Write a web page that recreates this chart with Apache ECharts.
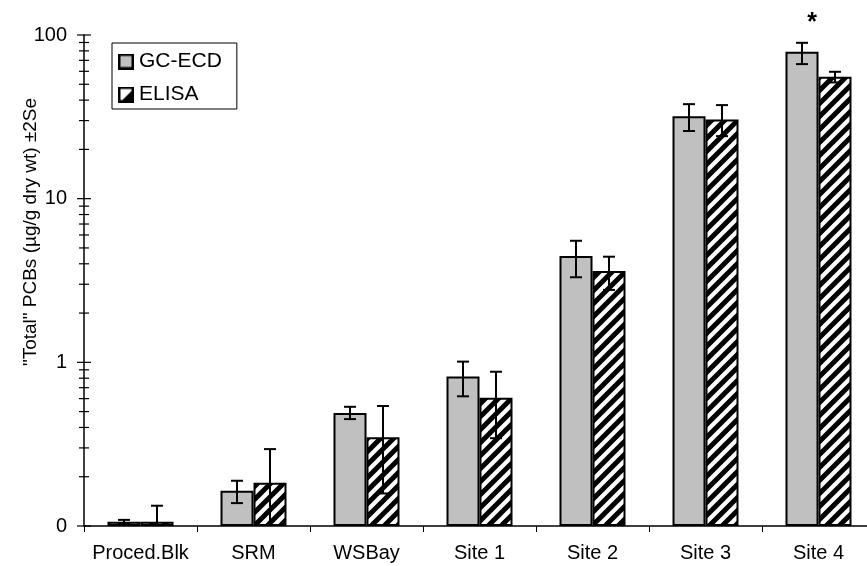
<!DOCTYPE html>
<html>
<head>
<meta charset="utf-8">
<script src="https://cdn.jsdelivr.net/npm/echarts@6/dist/echarts.min.js"></script>
<style>
html,body{margin:0;padding:0;background:#fff;}
#chart{width:867px;height:566px;}
</style>
</head>
<body>
<div id="chart"></div>
<script>
// ---- Data ----
const categories = ['Proced.Blk', 'SRM', 'WSBay', 'Site 1', 'Site 2', 'Site 3', 'Site 4'];
const gcMean  = [0.106, 0.164, 0.49, 0.82, 4.46, 31.9, 78.9];
const gcLow   = [0.103, 0.138, 0.45, 0.62, 3.31, 25.9, 66.4];
const gcHigh  = [0.109, 0.189, 0.535, 1.01, 5.53, 37.8, 89.6];
const elisaMean = [0.106, 0.184, 0.348, 0.608, 3.61, 30.5, 55.6];
const elisaLow  = [0.08, 0.08, 0.158, 0.344, 2.77, 24.1, 51.3];
const elisaHigh = [0.133, 0.295, 0.541, 0.876, 4.42, 37.3, 59.6];
const majorTicks = [0.1, 1, 10, 100];
const minorTicks = [0.2,0.3,0.4,0.5,0.6,0.7,0.8,0.9, 2,3,4,5,6,7,8,9, 20,30,40,50,60,70,80,90];
const tickLabels = {0.1: '0', 1: '1', 10: '10', 100: '100'};
const yTitle = '"Total" PCBs (µg/g dry wt) ±2Se';
const significance = {category: 'Site 4', text: '*'};

// ---- Styling ----
const FONT = '"Liberation Sans", Arial, Helvetica, sans-serif';
const BAR_W = 33;

function makeHatch() {
  const N = 13;
  const c = document.createElement('canvas');
  c.width = N; c.height = N;
  const ctx = c.getContext('2d');
  ctx.fillStyle = '#fff';
  ctx.fillRect(0, 0, N, N);
  ctx.strokeStyle = '#000';
  ctx.lineWidth = 5;
  ctx.beginPath();
  for (let k = -1; k <= 1; k++) {
    ctx.moveTo(k * N - 3, N + 3);
    ctx.lineTo(k * N + N + 3, -3);
  }
  ctx.stroke();
  return c;
}
const hatch = makeHatch();

function makeLegendIcon(kind) {
  const S = 32;
  const c = document.createElement('canvas');
  c.width = S; c.height = S;
  const ctx = c.getContext('2d');
  ctx.fillStyle = kind === 'gc' ? '#c0c0c0' : '#fff';
  ctx.fillRect(0, 0, S, S);
  if (kind !== 'gc') {
    ctx.fillStyle = '#000';
    ctx.beginPath();
    ctx.moveTo(S, 4); ctx.lineTo(S, S); ctx.lineTo(4, S);
    ctx.closePath(); ctx.fill();
  }
  ctx.strokeStyle = '#000';
  ctx.lineWidth = 5;
  ctx.strokeRect(2.5, 2.5, S - 5, S - 5);
  return 'image://' + c.toDataURL();
}

const chart = echarts.init(document.getElementById('chart'), null, {renderer: 'canvas'});

function errorBarItem(offsetSign) {
  return function (params, api) {
    const ci = api.value(0);
    const lo = api.coord([ci, api.value(1)]);
    const hi = api.coord([ci, api.value(2)]);
    const x = lo[0] + offsetSign * BAR_W / 2;
    const cap = 6;
    const style = {stroke: '#000', lineWidth: 2, fill: null};
    return {
      type: 'group',
      children: [
        {type: 'line', shape: {x1: x, y1: lo[1], x2: x, y2: hi[1]}, style: style},
        {type: 'line', shape: {x1: x - cap, y1: lo[1], x2: x + cap, y2: lo[1]}, style: style},
        {type: 'line', shape: {x1: x - cap, y1: hi[1], x2: x + cap, y2: hi[1]}, style: style}
      ]
    };
  };
}

function tickItem(params, api) {
  const v = api.value(1);
  const y = api.coord([0, v])[1];
  const x = params.coordSys.x;
  const half = api.value(2) ? 7 : 5;
  return {
    type: 'line',
    shape: {x1: x - half, y1: y, x2: x + half, y2: y},
    style: {stroke: '#000', lineWidth: 1.2}
  };
}

const tickData = majorTicks.map(v => [0, v, 1]).concat(minorTicks.map(v => [0, v, 0]));

const option = {
  animation: false,
  backgroundColor: '#fff',
  textStyle: {fontFamily: FONT, color: '#000'},
  grid: {left: 84, top: 35, bottom: 40, right: -8, containLabel: false, outerBoundsMode: 'none'},
  legend: {
    data: [
      {name: 'GC-ECD', icon: makeLegendIcon('gc')},
      {name: 'ELISA', icon: makeLegendIcon('elisa')}
    ],
    orient: 'vertical',
    left: 112, top: 43,
    padding: [8, 15, 4, 6],
    itemGap: 12,
    itemWidth: 16, itemHeight: 16,
    borderColor: '#000', borderWidth: 1,
    textStyle: {fontFamily: FONT, fontSize: 21, color: '#000'}
  },
  xAxis: {
    type: 'category',
    data: categories,
    boundaryGap: true,
    axisLine: {lineStyle: {color: '#000', width: 1.5}},
    axisTick: {show: true, length: 6, lineStyle: {color: '#000', width: 1}},
    axisLabel: {interval: 0, fontFamily: FONT, fontSize: 20, color: '#000', margin: 17}
  },
  yAxis: {
    type: 'log',
    logBase: 10,
    min: 0.1, max: 100,
    startValue: 0.1,
    splitLine: {show: false},
    axisLine: {show: true, lineStyle: {color: '#000', width: 1.5}},
    axisTick: {show: false},
    axisLabel: {
      fontFamily: FONT, fontSize: 20, color: '#000', margin: 17,
      formatter: v => (tickLabels[v] !== undefined ? tickLabels[v] : (Math.abs(v - 0.1) < 1e-9 ? '0' : String(v)))
    }
  },
  graphic: [{
    type: 'text',
    x: 31, y: 232,
    rotation: Math.PI / 2,
    style: {text: yTitle, font: '19px ' + FONT, fill: '#000', align: 'center', verticalAlign: 'middle'}
  }],
  series: [
    {
      name: 'GC-ECD', type: 'bar', data: gcMean,
      barWidth: BAR_W, barGap: '0%',
      itemStyle: {color: '#c0c0c0', borderColor: '#000', borderWidth: 2},
      markPoint: {
        symbol: 'circle', symbolSize: 0,
        data: [{coord: [significance.category, 100], value: significance.text}],
        label: {show: true, formatter: significance.text, fontSize: 25, fontWeight: 'bold', color: '#000', offset: [10, -12], fontFamily: FONT}
      },
      z: 2
    },
    {
      name: 'ELISA', type: 'bar', data: elisaMean,
      barWidth: BAR_W, barGap: '0%',
      itemStyle: {color: {image: hatch, repeat: 'repeat'}, borderColor: '#000', borderWidth: 2},
      z: 2
    },
    {
      type: 'custom', name: 'gcErr',
      renderItem: errorBarItem(-1),
      data: categories.map((c, i) => [i, gcLow[i], gcHigh[i]]),
      encode: {x: 0, y: [1, 2]},
      clip: true, z: 5, silent: true
    },
    {
      type: 'custom', name: 'elisaErr',
      renderItem: errorBarItem(1),
      data: categories.map((c, i) => [i, elisaLow[i], elisaHigh[i]]),
      encode: {x: 0, y: [1, 2]},
      clip: true, z: 5, silent: true
    },
    {
      type: 'custom', name: 'yTicks',
      renderItem: tickItem,
      data: tickData,
      encode: {x: 0, y: 1},
      clip: false, z: 6, silent: true
    }
  ]
};
chart.setOption(option);
</script>
</body>
</html>
